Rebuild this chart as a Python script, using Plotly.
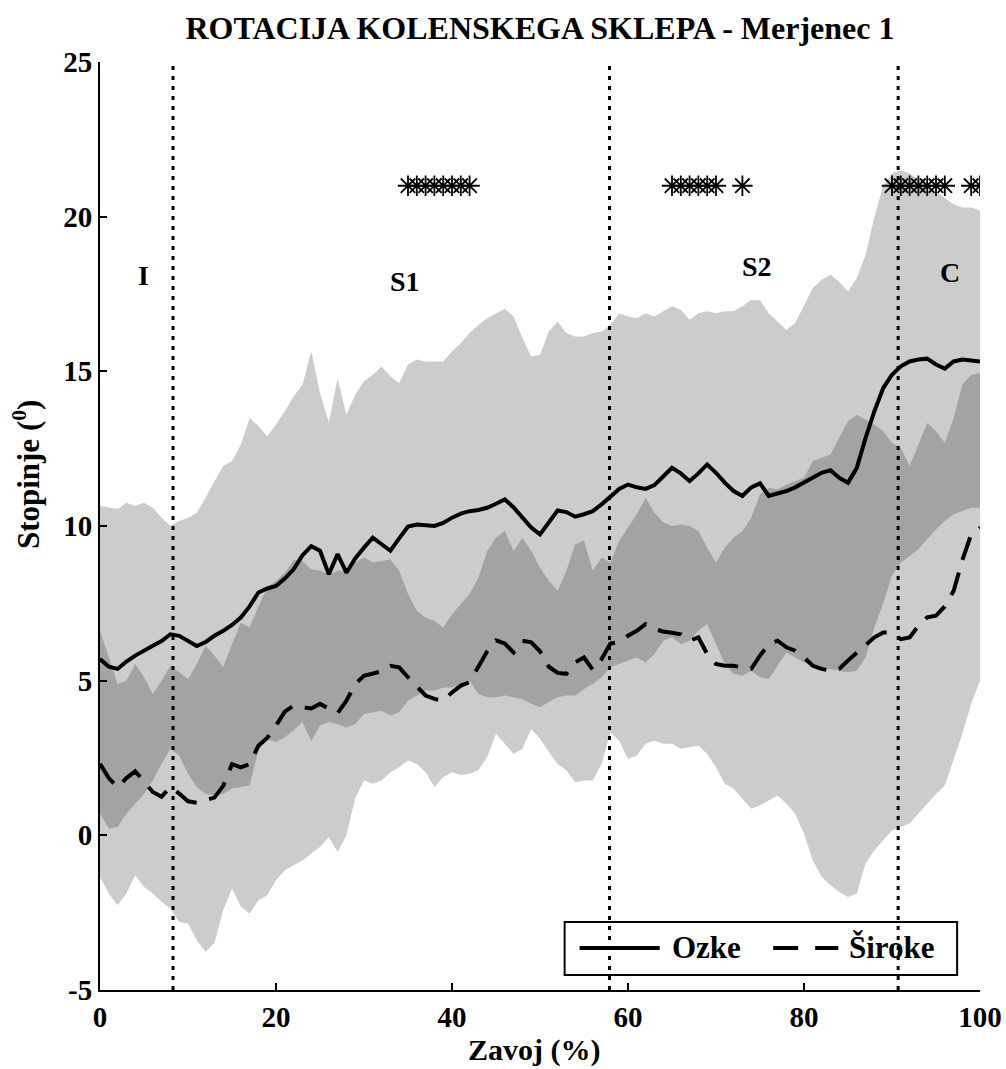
import plotly.graph_objects as go

# Gait cycle (%) sampled at every percent
pct = list(range(0, 101))

# Narrow-track group (Ozke): mean and +/- SD envelope
ozke_mean = [
    5.70, 5.45, 5.38, 5.62, 5.81, 5.98, 6.13, 6.28, 6.50, 6.45,
    6.29, 6.12, 6.25, 6.45, 6.61, 6.80, 7.04, 7.40, 7.85, 7.98,
    8.06, 8.30, 8.60, 9.05, 9.35, 9.20, 8.44, 9.09, 8.49, 8.95,
    9.30, 9.62, 9.41, 9.20, 9.60, 9.98, 10.05, 10.02, 10.00, 10.10,
    10.27, 10.40, 10.48, 10.52, 10.59, 10.72, 10.86, 10.60, 10.27, 9.95,
    9.73, 10.10, 10.50, 10.45, 10.30, 10.38, 10.48, 10.70, 10.95, 11.20,
    11.34, 11.25, 11.20, 11.32, 11.60, 11.88, 11.70, 11.45, 11.70, 11.99,
    11.72, 11.40, 11.13, 10.97, 11.25, 11.38, 10.97, 11.05, 11.13, 11.25,
    11.40, 11.55, 11.72, 11.80, 11.56, 11.40, 11.88, 12.85, 13.71, 14.46,
    14.89, 15.16, 15.32, 15.38, 15.41, 15.22, 15.09, 15.32, 15.38, 15.35,
    15.32,
]
ozke_upper = [
    10.65, 10.59, 10.55, 10.75, 10.65, 10.75, 10.59, 10.27, 10.00, 10.16,
    10.27, 10.43, 10.91, 11.45, 11.94, 12.10, 12.63, 13.49, 13.23, 12.90,
    13.28, 13.71, 14.19, 14.57, 15.65, 14.30, 13.35, 14.76, 13.60, 14.25,
    14.68, 14.89, 15.16, 14.84, 14.62, 15.22, 15.38, 15.32, 15.32, 15.32,
    15.65, 15.91, 16.24, 16.50, 16.72, 16.88, 17.02, 16.77, 16.08, 15.48,
    15.54, 16.29, 16.61, 16.24, 16.13, 16.13, 16.24, 16.29, 16.50, 16.88,
    16.77, 16.72, 16.88, 16.77, 16.94, 17.10, 16.99, 16.67, 16.88, 16.94,
    16.88, 16.94, 16.94, 17.10, 17.31, 17.30, 16.88, 16.61, 16.34, 16.56,
    17.15, 17.69, 17.96, 18.12, 17.90, 17.58, 18.01, 18.76, 20.00, 21.00,
    21.40, 21.50, 21.40, 21.20, 21.05, 20.80, 20.60, 20.40, 20.30, 20.30,
    20.20,
]
ozke_lower = [
    0.70, 0.22, 0.27, 0.70, 1.02, 1.34, 1.77, 2.31, 2.80, 2.58,
    1.99, 1.56, 1.34, 1.29, 1.34, 1.51, 1.56, 1.61, 2.74, 3.12,
    3.01, 3.17, 3.39, 3.66, 3.05, 3.55, 3.66, 3.60, 3.49, 3.60,
    3.92, 3.98, 4.03, 3.87, 3.98, 4.35, 4.52, 4.68, 4.68, 4.78,
    4.78, 4.89, 5.00, 4.57, 4.46, 4.46, 4.52, 4.46, 4.41, 4.25,
    4.14, 4.30, 4.46, 4.52, 4.52, 4.73, 4.89, 5.11, 5.43, 5.54,
    5.65, 5.75, 5.59, 5.86, 6.29, 6.40, 6.18, 6.29, 6.61, 6.83,
    6.18, 5.54, 5.22, 5.16, 5.32, 5.11, 5.05, 5.48, 5.91, 5.75,
    5.59, 5.48, 5.43, 5.38, 5.32, 5.27, 5.32, 5.75, 6.72, 7.50,
    8.40, 8.82, 9.03, 9.25, 9.57, 9.89, 10.16, 10.38, 10.48, 10.59,
    10.59,
]

# Wide-track group (Široke): mean and +/- SD envelope
siroke_mean = [
    2.31, 1.85, 1.55, 1.85, 2.07, 1.75, 1.40, 1.25, 1.56, 1.35,
    1.10, 1.05, 1.13, 1.22, 1.60, 2.30, 2.20, 2.30, 2.90, 3.15,
    3.55, 4.00, 4.19, 4.15, 4.10, 4.25, 4.09, 3.95, 4.35, 4.89,
    5.16, 5.22, 5.30, 5.48, 5.43, 5.11, 4.80, 4.52, 4.41, 4.35,
    4.62, 4.84, 4.95, 5.48, 5.95, 6.30, 6.20, 5.91, 6.29, 6.24,
    5.95, 5.45, 5.25, 5.22, 5.59, 5.75, 5.35, 5.70, 6.20, 6.25,
    6.45, 6.61, 6.83, 6.67, 6.59, 6.55, 6.50, 6.29, 6.40, 5.86,
    5.54, 5.48, 5.48, 5.43, 5.38, 5.81, 6.18, 6.29, 6.08, 5.97,
    5.75, 5.48, 5.38, 5.32, 5.38, 5.65, 5.91, 6.18, 6.40, 6.56,
    6.56, 6.34, 6.40, 6.77, 7.05, 7.10, 7.40, 7.90, 8.90, 9.73,
    9.95,
]
siroke_upper = [
    6.61, 5.75, 4.89, 5.00, 5.54, 5.11, 4.57, 5.00, 5.48, 5.27,
    5.05, 5.54, 6.13, 5.81, 5.43, 6.18, 6.88, 6.72, 7.40, 8.01,
    8.23, 8.49, 8.90, 8.87, 8.60, 8.55, 8.44, 8.55, 8.55, 8.82,
    8.98, 8.82, 8.87, 8.92, 8.55, 7.80, 7.26, 7.04, 6.94, 6.72,
    7.15, 7.47, 7.80, 8.33, 9.19, 9.62, 9.84, 9.19, 9.62, 9.19,
    8.66, 8.23, 7.90, 8.55, 9.41, 9.52, 8.55, 8.98, 8.82, 9.52,
    9.95, 10.38, 10.91, 10.43, 10.11, 10.00, 10.05, 10.00, 9.84, 9.30,
    8.82, 9.30, 9.62, 9.84, 10.27, 11.02, 11.24, 11.18, 11.34, 11.45,
    11.56, 12.10, 12.20, 12.31, 12.85, 13.39, 13.60, 13.44, 13.28, 13.06,
    12.69, 12.53, 11.94, 12.63, 13.33, 13.06, 12.69, 13.49, 14.57, 14.89,
    14.95,
]
siroke_lower = [
    -1.34, -1.88, -2.26, -1.88, -1.29, -1.67, -1.88, -2.15, -2.37, -2.80,
    -2.85, -3.39, -3.76, -3.49, -2.42, -1.72, -2.31, -2.53, -2.10, -1.94,
    -1.45, -1.13, -0.97, -0.81, -0.59, -0.38, -0.05, -0.54, 0.00, 1.20,
    1.77, 1.67, 1.77, 2.04, 2.20, 2.42, 2.31, 2.04, 1.56, 1.88,
    2.04, 1.94, 1.99, 2.10, 2.53, 3.28, 2.96, 2.63, 2.80, 3.44,
    3.12, 2.69, 2.31, 2.10, 1.72, 1.77, 1.77, 2.31, 3.33, 3.06,
    2.47, 2.58, 2.96, 3.06, 2.96, 2.96, 2.80, 2.85, 2.90, 2.63,
    2.20, 1.67, 1.51, 1.18, 0.86, 0.97, 1.13, 1.29, 1.02, 0.70,
    0.05, -0.81, -1.34, -1.61, -1.83, -1.99, -1.88, -0.91, -0.48, -0.16,
    0.16, 0.27, 0.38, 0.70, 1.02, 1.34, 1.61, 2.42, 3.28, 4.25,
    5.00,
]

# Phase boundaries of the gait cycle and phase names
phase_bounds = [8.3, 57.9, 90.7]
phase_names = ["I", "S1", "S2", "C"]

# Points where the two groups differ significantly
sig_pct = [35, 36, 37, 38, 39, 40, 41, 42,
           65, 66, 67, 68, 69, 70, 73,
           90, 91, 92, 93, 94, 95, 96, 99, 100]
sig_level = 21

# Axis ticks and their labels
x_ticks = [0, 20, 40, 60, 80, 100]
y_ticks = [-5, 0, 5, 10, 15, 20, 25]
y_tick_text = ["-5", "0", "5", "10", "15", "20", "25"]

SERIF = "Liberation Serif, Times New Roman, serif"
BAND = "rgba(0,0,0,0.2)"

fig = go.Figure()


def add_band(upper, lower):
    fig.add_trace(go.Scatter(
        x=pct + pct[::-1], y=upper + lower[::-1],
        fill="toself", fillcolor=BAND, line=dict(width=0),
        mode="lines", hoverinfo="skip", showlegend=False))


add_band(ozke_upper, ozke_lower)
add_band(siroke_upper, siroke_lower)

fig.add_trace(go.Scatter(
    x=pct, y=ozke_mean, mode="lines", name="Ozke",
    line=dict(color="black", width=4), showlegend=False))
fig.add_trace(go.Scatter(
    x=pct, y=siroke_mean, mode="lines", name="Široke",
    line=dict(color="black", width=4, dash="24px,13px"), showlegend=False))

fig.add_trace(go.Scatter(
    x=sig_pct, y=[sig_level] * len(sig_pct), mode="markers",
    marker=dict(symbol="asterisk-open", size=17, color="black",
                line=dict(color="black", width=1.8)),
    hoverinfo="skip", showlegend=False))

# Phase labels
label_pos = [(4.9, 18.1), (34.7, 17.9), (74.7, 18.4), (96.6, 18.2)]
for name, (lx, ly) in zip(phase_names, label_pos):
    fig.add_annotation(x=lx, y=ly, text=name, showarrow=False,
                       font=dict(family=SERIF, size=28, color="black",
                                 weight="bold"))

# Axis titles
fig.add_annotation(xref="paper", yref="paper", x=0.493, y=-0.0645,
                   xanchor="center", yanchor="middle", text="Zavoj (%)",
                   showarrow=False, borderpad=0,
                   font=dict(family=SERIF, size=30, color="black",
                             weight="bold"))
fig.add_annotation(xref="paper", yref="paper", x=-0.084, y=0.556,
                   xanchor="center", yanchor="middle", textangle=-90,
                   text="Stopinje (<sup>0</sup>)", showarrow=False,
                   borderpad=0,
                   font=dict(family=SERIF, size=31, color="black",
                             weight="bold"))

# Legend box drawn in paper coordinates
fig.add_shape(type="rect", xref="paper", yref="paper",
              x0=0.528, x1=0.974, y0=0.0162, y1=0.0733,
              line=dict(color="black", width=2), fillcolor="white",
              layer="above")
fig.add_shape(type="line", xref="paper", yref="paper",
              x0=0.545, x1=0.636, y0=0.0453, y1=0.0453,
              line=dict(color="black", width=4), layer="above")
fig.add_shape(type="line", xref="paper", yref="paper",
              x0=0.765, x1=0.839, y0=0.0453, y1=0.0453,
              line=dict(color="black", width=4, dash="25px,17px"),
              layer="above")
fig.add_annotation(xref="paper", yref="paper", x=0.648, y=0.0453,
                   xanchor="left", yanchor="middle", text="Ozke",
                   showarrow=False,
                   font=dict(family=SERIF, size=31, color="black",
                             weight="bold"))
fig.add_annotation(xref="paper", yref="paper", x=0.849, y=0.0453,
                   xanchor="left", yanchor="middle", text="Široke",
                   showarrow=False,
                   font=dict(family=SERIF, size=31, color="black",
                             weight="bold"))

# Dotted phase boundaries, drawn over everything else
for b in phase_bounds:
    fig.add_shape(type="line", xref="x", yref="y", x0=b, x1=b,
                  y0=-5, y1=25, layer="above",
                  line=dict(color="black", width=3, dash="4px,6px"))

axis_common = dict(
    showline=True, linecolor="black", linewidth=2,
    ticks="inside", ticklen=7, tickwidth=1.5, tickcolor="black",
    showgrid=False, zeroline=False, mirror=False, automargin=False,
    tickfont=dict(family=SERIF, size=29, color="black", weight="bold"),
)

fig.update_xaxes(range=[0, 100], tickvals=x_ticks, **axis_common)
fig.update_yaxes(range=[-5, 25], tickvals=y_ticks, ticktext=y_tick_text,
                 **axis_common)

fig.update_layout(
    width=1006, height=1069, autosize=False,
    margin=dict(l=100, r=26, t=62, b=79, autoexpand=False),
    paper_bgcolor="white", plot_bgcolor="white",
    title=dict(text="ROTACIJA KOLENSKEGA SKLEPA - Merjenec 1",
               x=0.5, xref="paper", xanchor="center",
               y=1 - 28 / 1069, yanchor="middle",
               font=dict(family=SERIF, size=32, color="black",
                         weight="bold")),
    showlegend=False,
)

fig.write_html("out.html")
